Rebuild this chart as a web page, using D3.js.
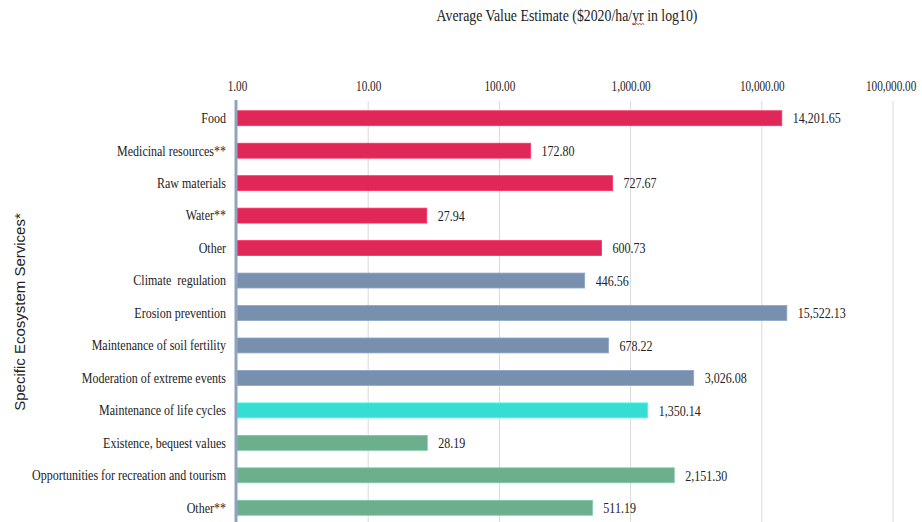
<!DOCTYPE html>
<html><head><meta charset="utf-8">
<script src="https://cdn.jsdelivr.net/npm/d3@7"></script>
<style>body{margin:0;background:#fff}</style>
</head><body>
<svg id="c" width="922" height="522"></svg>
<script>
const categories = ["Food","Medicinal resources**","Raw materials","Water**","Other","Climate  regulation","Erosion prevention","Maintenance of soil fertility","Moderation of extreme events","Maintenance of life cycles","Existence, bequest values","Opportunities for recreation and tourism","Other**"];
const values = [14201.65,172.80,727.67,27.94,600.73,446.56,15522.13,678.22,3026.08,1350.14,28.19,2151.30,511.19];
const groups = ["prov","prov","prov","prov","prov","reg","reg","reg","reg","hab","cult","cult","cult"];
const groupColors = {prov:"#DF2858", reg:"#7890AD", hab:"#35DDD3", cult:"#6BAF8D"};
const tickValues = [1,10,100,1000,10000,100000];
const title = "Average Value Estimate ($2020/ha/yr in log10)";
const yTitle = "Specific Ecosystem Services*";

const svg = d3.select("#c");
const serif = "'Liberation Serif','Times New Roman',serif";
const SQ = 0.8; // horizontal squeeze of the reference text
function squeeze(sel){
  sel.each(function(){
    const L = this.getComputedTextLength();
    if (L > 0) { this.setAttribute("textLength", L*SQ); this.setAttribute("lengthAdjust","spacingAndGlyphs"); }
  });
}
const x = d3.scaleLog().domain([1,100000]).range([237,893]);
const y = d3.scaleBand().domain(categories).range([102,524]).paddingInner(0.54).paddingOuter(0.27);

// gridlines
svg.append("g").selectAll("line").data(tickValues.slice(1)).join("line")
  .attr("x1",d=>x(d)).attr("x2",d=>x(d)).attr("y1",101).attr("y2",522)
  .attr("stroke","#d9d9d9").attr("stroke-width",1);

// top axis labels (squeezed horizontally with a scale transform)
const fmt = d3.format(",.2f");
const ax = d3.axisTop(x).tickValues(tickValues).tickFormat(fmt).tickSize(0).tickPadding(0);
const axg = svg.append("g").attr("transform","translate(0,91)").call(ax);
axg.select(".domain").remove();
axg.selectAll("text").attr("font-family",serif).attr("font-size",14).attr("fill","#222")
  .attr("transform","scale(" + SQ + ",1)");
axg.selectAll(".tick").filter(d=>d===100000).select("text").attr("x",-3);

// bars
svg.append("g").selectAll("rect").data(categories).join("rect")
  .attr("x",x(1)).attr("y",d=>y(d)).attr("height",y.bandwidth())
  .attr("width",(d,i)=>x(values[i])-x(1))
  .attr("fill",(d,i)=>groupColors[groups[i]])
  .attr("stroke",(d,i)=>d3.color(groupColors[groups[i]]).brighter(0.4))
  .attr("stroke-width",0.8);

// value labels
svg.append("g").selectAll("text").data(categories).join("text")
  .attr("x",(d,i)=>x(values[i])+11).attr("y",d=>y(d)+y.bandwidth()/2)
  .attr("dy","0.35em").attr("font-family",serif).attr("font-size",15).attr("fill","#222")
  .text((d,i)=>fmt(values[i])).call(squeeze);

// left axis
const yax = d3.axisLeft(y).tickSize(0).tickPadding(11);
const yg = svg.append("g").attr("transform","translate(237,0)").call(yax);
yg.select(".domain").remove();
yg.selectAll("text").attr("font-family",serif).attr("font-size",15).attr("fill","#222")
  .style("white-space","pre").call(squeeze);
svg.append("line").attr("x1",236).attr("x2",236).attr("y1",100).attr("y2",522)
  .attr("stroke","#8FA3C0").attr("stroke-width",3);

// titles
const t = svg.append("text").attr("x",567).attr("y",21).attr("text-anchor","middle")
  .attr("font-family",serif).attr("font-size",17.3).attr("fill","#222").text(title).call(squeeze);
// spell-check squiggle under "yr"
{
  const node = t.node();
  const idx = title.indexOf("yr");
  const full = node.getComputedTextLength();
  const total = +node.getAttribute("textLength");
  const k = total / full;
  let s0 = 567 - total/2, a = node.getSubStringLength(0, idx), w = node.getSubStringLength(idx, 2);
  if (a + w > total + 1) { a *= k; w *= k; }
  const x0 = s0 + a, x1 = x0 + w;
  let p = "M" + x0 + "," + 24;
  for (let xx = x0, up = true; xx < x1; xx += 1.5, up = !up) p += " L" + (xx+1.5) + "," + (up ? 23 : 25);
  svg.append("path").attr("d", p).attr("fill","none").attr("stroke","#E04040").attr("stroke-width",0.8);
}
svg.append("text").attr("transform","translate(25,312) rotate(-90)").attr("text-anchor","middle")
  .attr("font-family","'Liberation Sans',Arial,sans-serif").attr("font-size",15).attr("fill","#222").text(yTitle);
</script>
</body></html>
